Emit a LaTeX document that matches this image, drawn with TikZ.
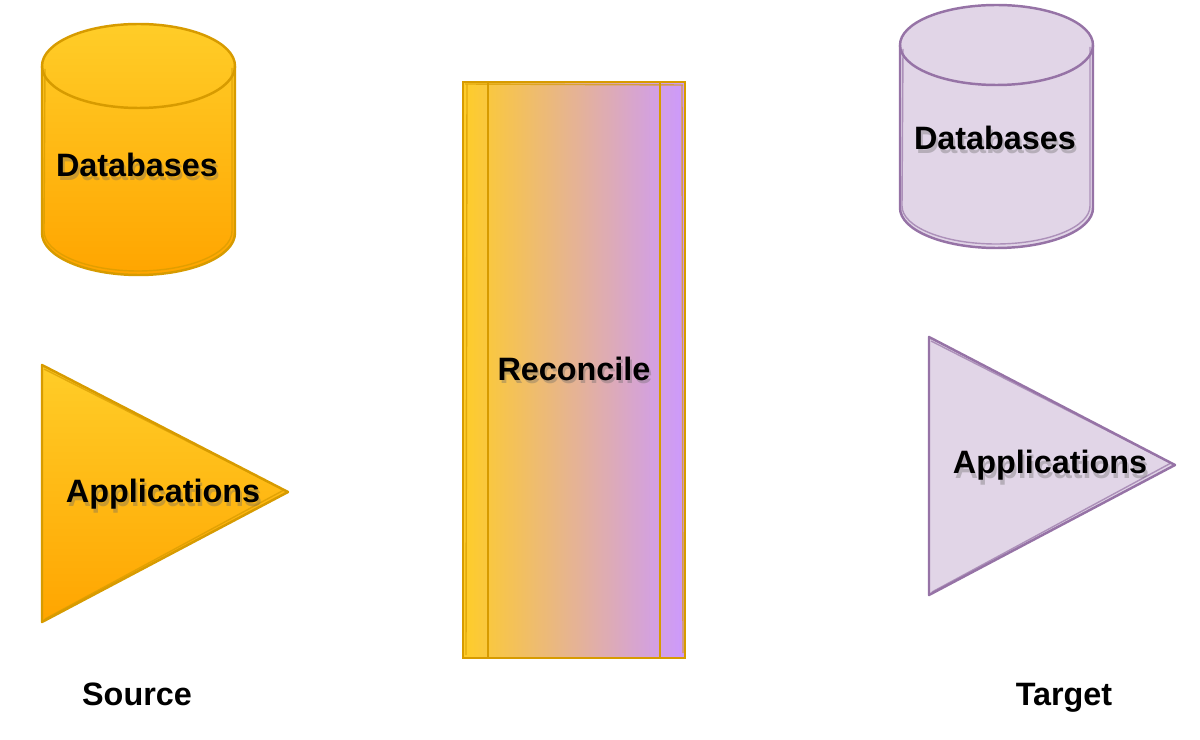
\documentclass[tikz,border=0pt]{standalone}
\usepackage{fontspec}
\setmainfont{Liberation Sans}
\usepackage{tikz}
\usetikzlibrary{positioning,calc}
\definecolor{srcyellow}{RGB}{255,205,40}
\definecolor{srcorange}{RGB}{255,165,0}
\definecolor{srcline}{RGB}{215,155,0}
\definecolor{tgtfill}{RGB}{225,213,231}
\definecolor{tgtline}{RGB}{150,115,166}
\definecolor{recpurple}{RGB}{204,153,255}

\begin{document}
\begin{tikzpicture}[
    x=0.01cm, y=0.01cm,
    srcshape/.style={top color=srcyellow, bottom color=srcorange, draw=srcline, line width=0.7pt, line join=round},
    tgtshape/.style={fill=tgtfill, draw=tgtline, line width=0.7pt, line join=round},
    sketch/.style={draw=#1, line width=0.4pt, opacity=0.7},
    label/.style={font=\fontsize{9.2}{11}\selectfont\bfseries, text=black, anchor=base},
    shadowtxt/.style={font=\fontsize{9.2}{11}\selectfont\bfseries, text=black!60, opacity=0.35, anchor=base}
]

% page frame
\useasboundingbox (0,0) rectangle (1200,739);

% Source databases (cylinder)
\path[srcshape] (42,673) -- (42,506) arc[start angle=180, end angle=360, x radius=96.5, y radius=42]
    -- (235,673) arc[start angle=0, end angle=180, x radius=96.5, y radius=42] -- cycle;
\draw[srcline, line width=0.7pt] (42,673) arc[start angle=180, end angle=360, x radius=96.5, y radius=42];
\draw[sketch=srcline] (45,670) -- (44,508) arc[start angle=180, end angle=360, x radius=94, y radius=40] -- (232,671);

% Source applications (triangle)
\path[srcshape] (42,374) -- (288,247) -- (42,117) -- cycle;
\draw[sketch=srcline] (44,370) -- (284,249) -- (45,120);

% Reconcile (process box)
\path[left color=srcyellow, right color=recpurple, draw=srcline, line width=0.7pt] (463,81) rectangle (685,657);
\draw[srcline, line width=0.7pt] (488,81) -- (488,657) (660,81) -- (660,657);
\draw[sketch=srcline] (466,84) -- (467,655) (682,653) -- (683,86) (465,655) -- (683,654);

% Target databases (cylinder)
\path[tgtshape] (900,694) -- (900,531) arc[start angle=180, end angle=360, x radius=96.5, y radius=40]
    -- (1093,694) arc[start angle=0, end angle=180, x radius=96.5, y radius=40] -- cycle;
\draw[tgtline, line width=0.7pt] (900,694) arc[start angle=180, end angle=360, x radius=96.5, y radius=40];
\draw[sketch=tgtline] (903,690) -- (902,533) arc[start angle=180, end angle=360, x radius=94, y radius=38] -- (1090,692);

% Target applications (triangle)
\path[tgtshape] (929,402) -- (1175,274) -- (929,144) -- cycle;
\draw[sketch=tgtline] (931,398) -- (1171,276) -- (932,147);

% Labels with soft shadow
\foreach \px/\py/\txt/\nm in {137/562/Databases/srcdb, 163/237/Applications/srcapp, 574/359/Reconcile/rec, 995/589/Databases/tgtdb, 1050/265/Applications/tgtapp}
{
    \node[shadowtxt] (\nm shadow) at (\px+2,\py-4) {\txt};
    \node[label] (\nm) at (\px,\py) {\txt};
}

% Side captions
\node[label] (source) at (137,34) {Source};
\node[label] (target) at (1064,34) {Target};

\end{tikzpicture}
\end{document}
